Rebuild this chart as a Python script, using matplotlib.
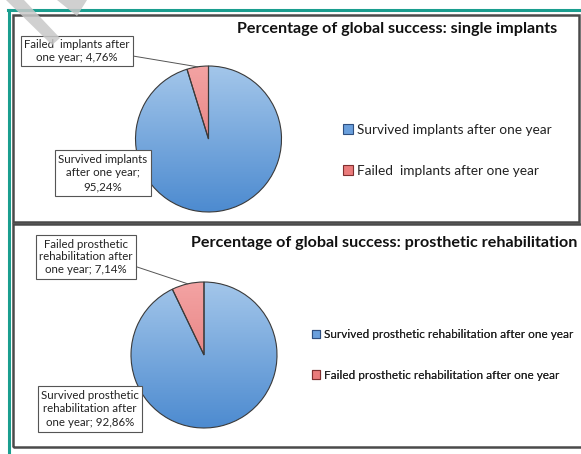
import numpy as np
import matplotlib.pyplot as plt
from matplotlib.patches import Rectangle, Polygon
from matplotlib.colors import LinearSegmentedColormap

plt.rcParams['font.family'] = ['Lato', 'DejaVu Sans']

# data
titles = ['Percentage of global success: single implants',
          'Percentage of global success: prosthetic rehabilitation']
legend_labels = [['Survived implants after one year', 'Failed  implants after one year'],
                 ['Survived prosthetic rehabilitation after one year',
                  'Failed prosthetic rehabilitation after one year']]
survived = [95.24, 92.86]
failed = [4.76, 7.14]
survived_text = ['Survived implants\nafter one year;\n95,24%',
                 'Survived prosthetic\nrehabilitation after\none year; 92,86%']
failed_text = ['Failed  implants after\none year; 4,76%',
               'Failed prosthetic\nrehabilitation after\none year; 7,14%']

W, H = 581, 454
fig = plt.figure(figsize=(W / 100, H / 100), dpi=100)
ax = fig.add_axes([0, 0, 1, 1])


def Y(p):
    return H - p


blue_cm = LinearSegmentedColormap.from_list('b', ['#a3c6ea', '#4d8bd0'])
red_cm = LinearSegmentedColormap.from_list('r', ['#f3a3a3', '#df6b6b'])

# layout per panel (pixels)
panels = [
    dict(frame=(13, 15, 579, 222), center=(208.5, 139), r=73,
         title_xy=(397, 29), leg_xy=(343, 132), leg_fs=9.8, leg_sp=2.1,
         fail_box=(77, 51), surv_box=(103, 173), lab_fs=8.3),
    dict(frame=(13, 224, 585, 447), center=(204, 355), r=73,
         title_xy=(384, 243), leg_xy=(312, 337), leg_fs=8.5, leg_sp=2.5,
         fail_box=(86, 257), surv_box=(90, 409), lab_fs=8.3),
]

for i, p in enumerate(panels):
    x0, y0, x1, y1 = p['frame']
    ax.add_patch(Rectangle((x0, Y(y1)), x1 - x0, y1 - y0, fill=False,
                           ec='#4a4a4a', lw=1.8, zorder=1))
    cx, cy = p['center']
    r = p['r']
    wedges, _ = ax.pie([survived[i], failed[i]], center=(cx, Y(cy)), radius=r,
                       startangle=90, counterclock=False,
                       colors=['#7aa9de', '#ea8a8a'],
                       wedgeprops=dict(ec='#3a3a3a', lw=0.8), frame=True)
    grad = np.linspace(0, 1, 100).reshape(-1, 1)
    for w, cm in zip(wedges, [blue_cm, red_cm]):
        im = ax.imshow(grad, cmap=cm, aspect='auto', origin='upper',
                       extent=(cx - r, cx + r, Y(cy) - r, Y(cy) + r), zorder=2)
        im.set_clip_path(w)
        w.set_zorder(3)
        w.set_facecolor('none')
    handles = [Rectangle((0, 0), 1, 1, fc='#6a9fdc', ec='#2f4f7f', lw=0.8),
               Rectangle((0, 0), 1, 1, fc='#ea7b7b', ec='#7f2f2f', lw=0.8)]

    # leader line to the failed wedge
    ang = np.deg2rad(90 + failed[i] / 100 * 360 / 2)
    ex, ey = cx + r * np.cos(ang), Y(cy) + r * np.sin(ang)
    bx, by = p['fail_box']
    t1 = ax.text(bx, Y(by), failed_text[i], ha='center', va='center',
                 fontsize=p['lab_fs'], color='#222', linespacing=1.2, zorder=5,
                 bbox=dict(boxstyle='square,pad=0.3', fc='white', ec='#555', lw=0.8))
    fig.canvas.draw()
    bb = t1.get_bbox_patch().get_window_extent().transformed(ax.transData.inverted())
    ax.plot([bb.x1, ex], [bb.y0 + (bb.y1 - bb.y0) * 0.7, ey], color='#555', lw=0.7, zorder=4)

    sx, sy = p['surv_box']
    ax.text(sx, Y(sy), survived_text[i], ha='center', va='center',
            fontsize=p['lab_fs'], color='#222', linespacing=1.3, zorder=5,
            bbox=dict(boxstyle='square,pad=0.3', fc='white', ec='#555', lw=0.8))

    tx, ty = p['title_xy']
    ax.text(tx, Y(ty), titles[i], ha='center', va='center', fontsize=11.6,
            fontweight='bold', color='#111', zorder=5)

    lx, ly = p['leg_xy']
    leg = ax.legend(handles, legend_labels[i], loc='upper left',
                    bbox_to_anchor=(lx / W, (Y(ly) + 8) / H),
                    frameon=False, fontsize=p['leg_fs'], handlelength=0.7,
                    handleheight=0.7, handletextpad=0.3, labelspacing=p['leg_sp'],
                    borderpad=0, borderaxespad=0, labelcolor='#222')
    ax.add_artist(leg)

# teal border
ax.plot([8.5, 8.5], [Y(10), Y(454)], color='#1a9e8f', lw=2.2, zorder=6)
ax.plot([8, 581], [Y(9.5), Y(9.5)], color='#1a9e8f', lw=2.2, zorder=6)

# watermark stripes
ax.add_patch(Polygon([(6, Y(0)), (24, Y(0)), (60, Y(38)), (52, Y(45))],
                     closed=True, fc='#c8c8c8', ec='none', alpha=0.85, zorder=7))
ax.add_patch(Polygon([(57, Y(0)), (87, Y(0)), (77, Y(16))],
                     closed=True, fc='#c8c8c8', ec='none', alpha=0.85, zorder=7))

ax.set_xlim(0, W)
ax.set_ylim(0, H)
ax.set_aspect('auto')
ax.axis('off')

fig.savefig('out.png', dpi=100)
